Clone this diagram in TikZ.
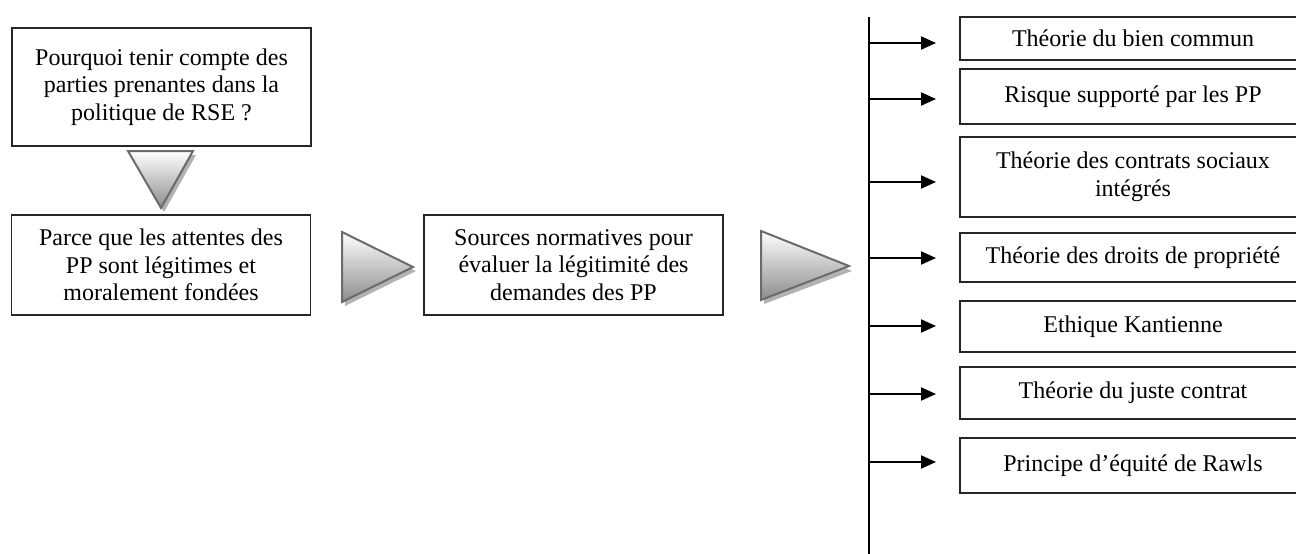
\documentclass[tikz,border=0pt]{standalone}
\usepackage{fontspec}
\setmainfont{Liberation Serif}
\usetikzlibrary{arrows.meta}
\begin{document}
\begin{tikzpicture}[x=1pt,y=-1pt,
  textbox/.style={draw=black!85,line width=1.8pt,align=center,inner sep=0pt,
    font=\fontsize{24}{27.6}\selectfont,minimum width=299pt},
  theory/.style={draw=black!85,line width=1.8pt,align=center,inner sep=0pt,
    font=\fontsize{24}{27.6}\selectfont,minimum width=346pt},
  flowtri/.style={draw=black!58,line width=2pt,line join=miter,
    top color=white,bottom color=black!45},
  triShadow/.style={fill=black!30,draw=none},
  branch/.style={line width=2pt,-{Triangle[length=15pt,width=13pt]}}
]
\useasboundingbox (0,0) rectangle (1296,554);

% question, answer and sources boxes
\node[textbox,minimum height=118pt] (q) at (161.5,87)
  {Pourquoi tenir compte des\\parties prenantes dans la\\politique de RSE ?};
\node[textbox,minimum height=100pt] (a) at (161,265)
  {Parce que les attentes des\\PP sont légitimes et\\moralement fondées};
\node[textbox,minimum height=100pt] (s) at (573.5,265)
  {Sources normatives pour\\évaluer la légitimité des\\demandes des PP};

% shaded flow triangles with a soft offset shadow
\fill[triShadow] (131,155) -- (196,155) -- (164,212) -- cycle;
\draw[flowtri] (128,151) -- (193,151) -- (161,208) -- cycle;
\fill[triShadow] (345,236) -- (345,306) -- (416,271) -- cycle;
\draw[flowtri] (342,232) -- (342,302) -- (413,267) -- cycle;
\fill[triShadow] (764,235) -- (764,304) -- (852,271) -- cycle;
\draw[flowtri] (761,231) -- (761,300) -- (849,266) -- cycle;

% vertical spine
\coordinate (top) at (869,17);
\coordinate (bot) at (869,556);
\draw[line width=2pt] (top) -- (bot);

% theory boxes on the right
\node[theory,minimum height=43pt] (t1) at (1133,38.5) {Théorie du bien commun};
\node[theory,minimum height=55pt] (t2) at (1133,96.5) {Risque supporté par les PP};
\node[theory,minimum height=80pt] (t3) at (1133,177) {Théorie des contrats sociaux\\intégrés};
\node[theory,minimum height=49pt] (t4) at (1133,257.5) {Théorie des droits de propriété};
\node[theory,minimum height=51pt] (t5) at (1133,326.5) {Ethique Kantienne};
\node[theory,minimum height=52pt] (t6) at (1133,393) {Théorie du juste contrat};
\node[theory,minimum height=55pt] (t7) at (1133,465.5) {Principe d’équité de Rawls};

% branches from the spine
\foreach \n/\y in {1/43,2/99,3/182,4/258,5/326,6/394,7/462}{
  \coordinate (b\n) at (868,\y);
  \coordinate (e\n) at (936,\y);
  \draw[branch] (b\n) -- (e\n);
}
\end{tikzpicture}
\end{document}
